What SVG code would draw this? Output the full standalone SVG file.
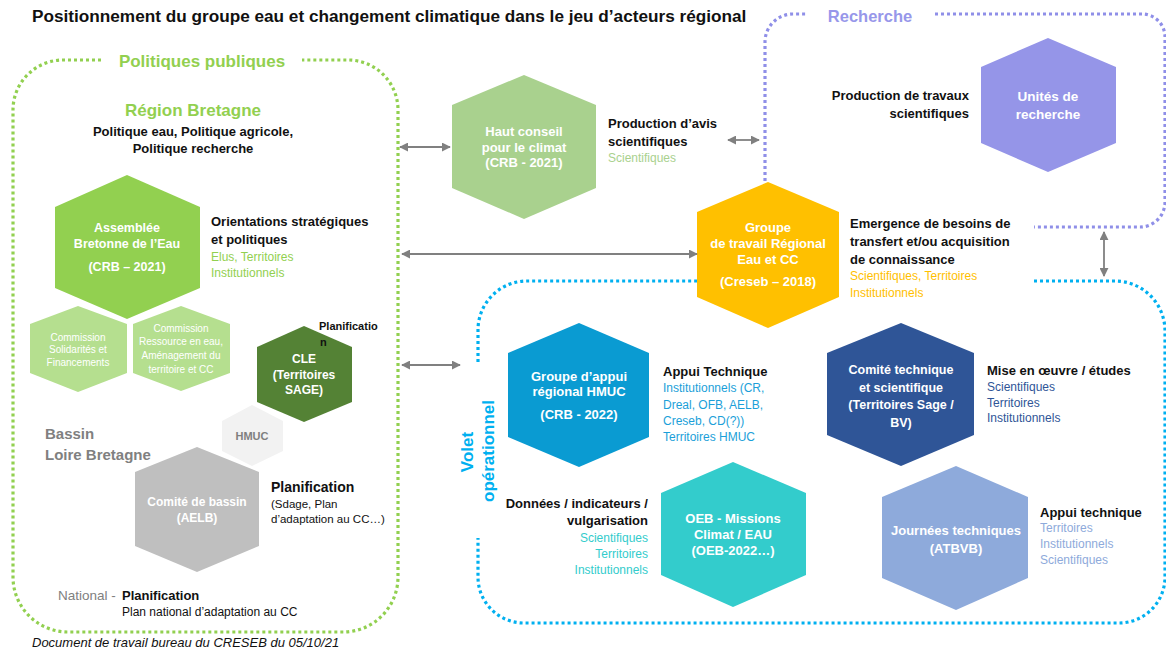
<svg xmlns="http://www.w3.org/2000/svg" width="1166" height="653" viewBox="0 0 1166 653">
<defs>
<marker id="ah" viewBox="0 0 10 10" refX="9" refY="5" markerWidth="5" markerHeight="5" orient="auto-start-reverse" markerUnits="strokeWidth">
<path d="M0,0 L10,5 L0,10 z" fill="#808080"/>
</marker>
<style>
text{font-family:"Liberation Sans",Arial,sans-serif}
.b{font-weight:bold}
.hx{fill:#fff;font-weight:bold;text-anchor:middle}
.cm{fill:#fff;text-anchor:middle}
.lbl{font-weight:bold;font-size:13px;fill:#111}
.sub{font-size:12px}
.cont{fill:none;stroke-width:3.2;stroke-dasharray:3 3}
.con{fill:none;stroke:#808080;stroke-width:1.8;marker-start:url(#ah);marker-end:url(#ah)}
</style>
</defs>
<rect width="1166" height="653" fill="#fff"/>

<text x="32" y="22" class="b" font-size="17.2" fill="#111">Positionnement du groupe eau et changement climatique dans le jeu d’acteurs régional</text>

<g id="containers">
<path class="cont" stroke="#92d050" d="M101,60 H63 A50,50 0 0 0 13,110 V577 A55,55 0 0 0 68,632 H343 A55,55 0 0 0 398,577 V110 A50,50 0 0 0 348,60 H302"/>
<path class="cont" stroke="#8f8fe8" d="M765,181 V42 A28,28 0 0 1 793,14 H807 M935,14 H1142 A23,23 0 0 1 1165,37 V202 A25,25 0 0 1 1140,227 H1034"/>
<path class="cont" stroke="#00b0f0" d="M478,362 V330 A49,49 0 0 1 527,281 H697 M1034,281 H1115 A50,50 0 0 1 1165,331 V577 A46,46 0 0 1 1119,623 H524 A46,46 0 0 1 478,577 V538"/>
<text x="202" y="67" text-anchor="middle" class="b" font-size="17" fill="#92d050">Politiques publiques</text>
<text x="870" y="22" text-anchor="middle" class="b" font-size="16.5" fill="#9797ea">Recherche</text>
<text transform="translate(473,452) rotate(-90)" text-anchor="middle" class="b" font-size="17" fill="#00b0f0">Volet</text>
<text transform="translate(494,451) rotate(-90)" text-anchor="middle" class="b" font-size="17" fill="#00b0f0">opérationnel</text>
</g>

<g id="region-bretagne">
<text x="193" y="116" text-anchor="middle" class="b" font-size="17" fill="#92d050">Région Bretagne</text>
<text x="193" y="136" text-anchor="middle" class="lbl">Politique eau, Politique agricole,</text>
<text x="193" y="153" text-anchor="middle" class="lbl">Politique recherche</text>
</g>

<g id="assemblee">
<polygon points="127,175 200,207 200,288 127,319 55,288 55,207" fill="#92d050"/>
<text class="hx" font-size="12.5" x="127" y="232">Assemblée</text>
<text class="hx" font-size="12.5" x="127" y="248">Bretonne de l’Eau</text>
<text class="hx" font-size="12.5" x="127" y="271">(CRB – 2021)</text>
<text x="211" y="226" class="lbl">Orientations stratégiques</text>
<text x="211" y="244" class="lbl">et politiques</text>
<text x="211" y="261" class="sub" fill="#92d050">Elus, Territoires</text>
<text x="211" y="277" class="sub" fill="#92d050">Institutionnels</text>
</g>

<g id="commission-solidarites">
<polygon points="78,306 127,324 127,373 78,392 30,373 30,324" fill="#b5df8f"/>
<text class="cm" font-size="10" x="78" y="341">Commission</text>
<text class="cm" font-size="10" x="78" y="353">Solidarités et</text>
<text class="cm" font-size="10" x="78" y="366">Financements</text>
</g>

<g id="commission-ressource">
<polygon points="181,306 230,324 230,373 181,391 133,373 133,324" fill="#b5df8f"/>
<text class="cm" font-size="10" x="181" y="332">Commission</text>
<text class="cm" font-size="10" x="181" y="345">Ressource en eau,</text>
<text class="cm" font-size="10" x="181" y="359">Aménagement du</text>
<text class="cm" font-size="10" x="181" y="373">territoire et CC</text>
</g>

<g id="cle">
<polygon points="304,326 352,347 352,402 304,422 257,402 257,347" fill="#548235"/>
<text class="hx" font-size="12" x="304" y="363">CLE</text>
<text class="hx" font-size="12" x="304" y="379">(Territoires</text>
<text class="hx" font-size="12" x="304" y="394">SAGE)</text>
<text x="319" y="330" class="b" font-size="11" fill="#111">Planificatio</text>
<text x="320" y="346" class="b" font-size="11" fill="#111">n</text>
</g>

<g id="hmuc">
<polygon points="252,405 283,421 283,451 252,466 222,451 222,421" fill="#f2f2f2"/>
<text x="252" y="440" text-anchor="middle" class="b" font-size="11" fill="#7f7f7f">HMUC</text>
</g>

<g id="comite-bassin">
<text x="45" y="439" class="b" font-size="15" fill="#808080">Bassin</text>
<text x="45" y="460" class="b" font-size="15" fill="#808080">Loire Bretagne</text>
<polygon points="197,447 259,472 259,546 197,572 135,546 135,472" fill="#bfbfbf"/>
<text class="hx" font-size="12" x="197" y="506">Comité de bassin</text>
<text class="hx" font-size="12" x="197" y="522">(AELB)</text>
<text x="271" y="492" class="b" font-size="14" fill="#111">Planification</text>
<text x="271" y="508" font-size="11.5" fill="#111">(Sdage, Plan</text>
<text x="271" y="523" font-size="11.5" fill="#111">d’adaptation  au CC…)</text>
</g>

<g id="national">
<text x="58" y="600" font-size="13.5" fill="#808080">National -</text>
<text x="122" y="600" class="lbl">Planification</text>
<text x="122" y="616" font-size="12" fill="#111">Plan national d’adaptation au CC</text>
</g>

<g id="haut-conseil">
<polygon points="524,75 596,105 596,188 524,219 452,188 452,105" fill="#a9d18e"/>
<text class="hx" font-size="13" x="524" y="135.5">Haut conseil</text>
<text class="hx" font-size="13" x="524" y="151.5">pour le climat</text>
<text class="hx" font-size="13" x="524" y="166.5">(CRB - 2021)</text>
<text x="608" y="128" class="lbl">Production d’avis</text>
<text x="608" y="146" class="lbl">scientifiques</text>
<text x="608" y="162" class="sub" fill="#a9d18e">Scientifiques</text>
</g>

<g id="unites-recherche">
<polygon points="1048,38 1116,67 1116,143 1048,172 981,143 981,67" fill="#9595e8"/>
<text class="hx" font-size="13.5" x="1048" y="100.5">Unités de</text>
<text class="hx" font-size="13.5" x="1048" y="118.5">recherche</text>
<text x="969" y="100" text-anchor="end" class="lbl">Production de travaux</text>
<text x="969" y="118" text-anchor="end" class="lbl">scientifiques</text>
</g>

<g id="groupe-travail">
<polygon points="768,182 839,212 839,297 768,328 697,297 697,212" fill="#ffc000"/>
<text class="hx" font-size="13" x="768" y="231.5">Groupe</text>
<text class="hx" font-size="13" x="768" y="247.5">de travail Régional</text>
<text class="hx" font-size="13" x="768" y="263.5">Eau et CC</text>
<text class="hx" font-size="13" x="768" y="285.5">(Creseb – 2018)</text>
<text x="850" y="228" class="lbl">Emergence de besoins de</text>
<text x="850" y="246" class="lbl">transfert et/ou acquisition</text>
<text x="850" y="264" class="lbl">de connaissance</text>
<text x="850" y="280" class="sub" fill="#ffc000">Scientifiques, Territoires</text>
<text x="850" y="297" class="sub" fill="#ffc000">Institutionnels</text>
</g>

<g id="groupe-appui-hmuc">
<polygon points="579,323 649,353 649,437 579,467 508,437 508,353" fill="#0a9bd2"/>
<text class="hx" font-size="13" x="579" y="380.5">Groupe d’appui</text>
<text class="hx" font-size="13" x="579" y="395.5">régional HMUC</text>
<text class="hx" font-size="13" x="579" y="418.5">(CRB - 2022)</text>
<text x="663" y="376" class="lbl">Appui Technique</text>
<text x="663" y="392" class="sub" fill="#1b9fd9">Institutionnels (CR,</text>
<text x="663" y="409" class="sub" fill="#1b9fd9">Dreal, OFB, AELB,</text>
<text x="663" y="425" class="sub" fill="#1b9fd9">Creseb, CD(?))</text>
<text x="663" y="441" class="sub" fill="#1b9fd9">Territoires HMUC</text>
</g>

<g id="comite-technique">
<polygon points="901,323 974,353 974,435 901,466 827,435 827,353" fill="#2f5597"/>
<text class="hx" font-size="12.5" x="901" y="373.5">Comité technique</text>
<text class="hx" font-size="12.5" x="901" y="391.5">et scientifique</text>
<text class="hx" font-size="12.5" x="901" y="408.5">(Territoires Sage /</text>
<text class="hx" font-size="12.5" x="901" y="426.5">BV)</text>
<text x="987" y="375" class="lbl">Mise en œuvre / études</text>
<text x="987" y="391" class="sub" fill="#2f5597">Scientifiques</text>
<text x="987" y="407" class="sub" fill="#2f5597">Territoires</text>
<text x="987" y="422" class="sub" fill="#2f5597">Institutionnels</text>
</g>

<g id="oeb">
<polygon points="733,462 806,493 806,575 733,607 661,575 661,493" fill="#33cccc"/>
<text class="hx" font-size="13" x="733" y="522.5">OEB - Missions</text>
<text class="hx" font-size="13" x="733" y="538.5">Climat / EAU</text>
<text class="hx" font-size="13" x="733" y="555">(OEB-2022…)</text>
<text x="648" y="508" text-anchor="end" class="lbl">Données / indicateurs /</text>
<text x="648" y="525" text-anchor="end" class="lbl">vulgarisation</text>
<text x="648" y="542" text-anchor="end" class="sub" fill="#33cccc">Scientifiques</text>
<text x="648" y="558" text-anchor="end" class="sub" fill="#33cccc">Territoires</text>
<text x="648" y="574" text-anchor="end" class="sub" fill="#33cccc">Institutionnels</text>
</g>

<g id="journees-techniques">
<polygon points="956,466 1028,497 1028,578 956,610 882,578 882,497" fill="#8eaadb"/>
<text class="hx" font-size="13" x="956" y="534.5">Journées techniques</text>
<text class="hx" font-size="13" x="956" y="552.5">(ATBVB)</text>
<text x="1040" y="517" class="lbl">Appui technique</text>
<text x="1040" y="532" class="sub" fill="#8eaadb">Territoires</text>
<text x="1040" y="548" class="sub" fill="#8eaadb">Institutionnels</text>
<text x="1040" y="564" class="sub" fill="#8eaadb">Scientifiques</text>
</g>

<g id="connectors">
<line class="con" x1="400" y1="147" x2="450" y2="147"/>
<line class="con" x1="728" y1="140" x2="759" y2="140"/>
<line class="con" x1="402" y1="254" x2="697" y2="254"/>
<line class="con" x1="402" y1="365" x2="460" y2="365"/>
<line class="con" x1="1104" y1="232" x2="1104" y2="276"/>
</g>

<text x="32" y="647" font-style="italic" font-size="13" fill="#111">Document de travail bureau du CRESEB du 05/10/21</text>
</svg>
